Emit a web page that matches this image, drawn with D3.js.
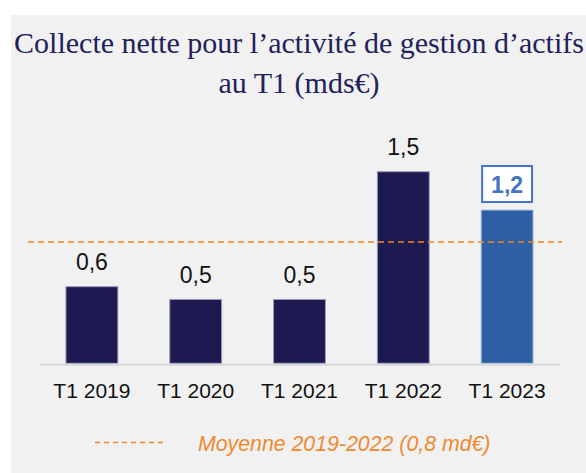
<!DOCTYPE html>
<html lang="fr">
<head>
  <meta charset="UTF-8">
  <title>Collecte nette</title>
  <script src="https://d3js.org/d3.v7.min.js"></script>
  <style>
    body {
      margin: 0;
      background: #ffffff;
    }
    svg {
      display: block;
    }
  </style>
</head>
<body>

<svg id="chart" width="586" height="473"></svg>

<script>
  // Data
  const categories = ["T1 2019", "T1 2020", "T1 2021", "T1 2022", "T1 2023"];
  const values = [0.6, 0.5, 0.5, 1.5, 1.2];
  const valueLabels = ["0,6", "0,5", "0,5", "1,5", "1,2"];
  const highlighted = ["T1 2023"];
  const averageLevel = 0.95; // where the dashed line sits in the picture
  const titleLines = ["Collecte nette pour l\u2019activité de gestion d\u2019actifs", "au T1 (mds€)"];
  const legendLabel = "Moyenne 2019-2022 (0,8 md€)";

  const svg = d3.select("#chart");
  const width = +svg.attr("width");
  const height = +svg.attr("height");

  // grey panel
  svg.append("rect")
    .attr("x", 11)
    .attr("y", 15)
    .attr("width", width - 11)
    .attr("height", height - 15)
    .attr("fill", "#f1f1f1");

  // title
  svg.selectAll(".title")
    .data(titleLines)
    .enter()
    .append("text")
    .attr("class", "title")
    .attr("x", 299)
    .attr("y", (d, i) => 53 + i * 40)
    .attr("text-anchor", "middle")
    .attr("font-family", "'Liberation Serif', 'Times New Roman', serif")
    .attr("font-size", 30)
    .attr("fill", "#22225a")
    .text(d => d);

  const x = d3.scaleBand()
    .domain(categories)
    .range([40, 559])
    .paddingInner(0.5)
    .paddingOuter(0.25);

  const y = d3.scaleLinear()
    .domain([0, 1.5])
    .range([363.3, 171.7]);

  const data = categories.map((c, i) => ({ category: c, value: values[i], label: valueLabels[i] }));

  // bars
  svg.selectAll(".bar")
    .data(data)
    .enter()
    .append("rect")
    .attr("class", "bar")
    .attr("x", d => x(d.category))
    .attr("y", d => y(d.value))
    .attr("width", x.bandwidth())
    .attr("height", d => y(0) - y(d.value))
    .attr("fill", d => highlighted.includes(d.category) ? "#2d5fa4" : "#1c1a50")
    .attr("stroke", d => highlighted.includes(d.category) ? "#a9bedf" : "#9c9cbc")
    .attr("stroke-width", 1);

  // baseline (x axis without ticks)
  const xAxis = svg.append("g")
    .attr("transform", `translate(0,${y(0) + 1})`)
    .call(d3.axisBottom(x).tickSize(0).tickPadding(19));
  xAxis.select(".domain")
    .attr("stroke", "#d9d9d9")
    .attr("stroke-width", 2);
  xAxis.selectAll("text")
    .attr("font-family", "'Liberation Sans', Arial, sans-serif")
    .attr("font-size", 21)
    .attr("fill", "#111111");

  // value labels
  svg.selectAll(".value")
    .data(data.filter(d => !highlighted.includes(d.category)))
    .enter()
    .append("text")
    .attr("class", "value")
    .attr("x", d => x(d.category) + x.bandwidth() / 2)
    .attr("y", d => y(d.value) - 16.5)
    .attr("text-anchor", "middle")
    .attr("font-family", "'Liberation Sans', Arial, sans-serif")
    .attr("font-size", 23)
    .attr("fill", "#111111")
    .text(d => d.label);

  // boxed label for the highlighted bar
  const boxed = data.filter(d => highlighted.includes(d.category));
  svg.selectAll(".value-box")
    .data(boxed)
    .enter()
    .append("rect")
    .attr("class", "value-box")
    .attr("x", d => x(d.category) + 1)
    .attr("y", d => y(d.value) - 44)
    .attr("width", x.bandwidth() - 2)
    .attr("height", 36)
    .attr("fill", "#ffffff")
    .attr("stroke", "#4472c4")
    .attr("stroke-width", 2);

  svg.selectAll(".value-boxed")
    .data(boxed)
    .enter()
    .append("text")
    .attr("class", "value-boxed")
    .attr("x", d => x(d.category) + x.bandwidth() / 2)
    .attr("y", d => y(d.value) - 17)
    .attr("text-anchor", "middle")
    .attr("font-family", "'Liberation Sans', Arial, sans-serif")
    .attr("font-size", 23)
    .attr("font-weight", "bold")
    .attr("fill", "#4472c4")
    .text(d => d.label);

  // average dashed line
  svg.append("line")
    .attr("x1", 28)
    .attr("x2", 562)
    .attr("y1", y(averageLevel))
    .attr("y2", y(averageLevel))
    .attr("stroke", "#f5841f")
    .attr("stroke-width", 1.5)
    .attr("stroke-dasharray", "6,4");

  // legend
  svg.append("line")
    .attr("x1", 95)
    .attr("x2", 167)
    .attr("y1", 442.5)
    .attr("y2", 442.5)
    .attr("stroke", "#f5841f")
    .attr("stroke-width", 1.3)
    .attr("stroke-dasharray", "5,4");

  svg.append("text")
    .attr("x", 198)
    .attr("y", 450.5)
    .attr("font-family", "'Liberation Sans', Arial, sans-serif")
    .attr("font-size", 21.3)
    .attr("font-style", "italic")
    .attr("fill", "#ef8a30")
    .text(legendLabel);
</script>

</body>
</html>
